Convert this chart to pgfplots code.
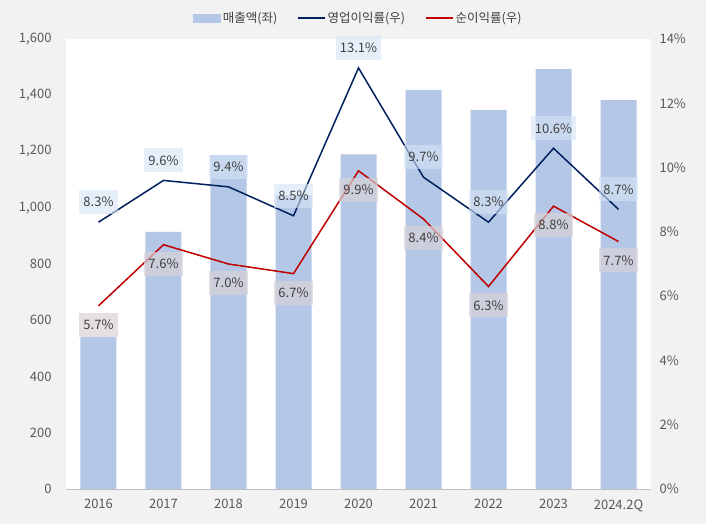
\documentclass[border=0pt]{standalone}
\usepackage{pgfplots}
\pgfplotsset{compat=1.18}
\usepackage{fontspec}
\setmainfont{Noto Sans CJK KR}
\definecolor{barc}{RGB}{180,199,231}
\definecolor{opc}{RGB}{0,32,96}
\definecolor{netc}{RGB}{192,0,0}
\definecolor{bgc}{RGB}{242,242,242}
\definecolor{txt}{RGB}{89,89,89}
\definecolor{lbl}{RGB}{64,64,64}
\definecolor{opbox}{RGB}{214,229,245}
\definecolor{netbox}{RGB}{216,210,214}
\pgfplotsset{/pgf/number format/assume math mode=true}
\begin{document}
\begin{tikzpicture}[x=1pt,y=1pt]
\fill[bgc] (-66,-35) rectangle (640,489);
\begin{axis}[at={(0,0)}, anchor=south west, scale only axis, width=585pt, height=450pt,
  xmin=-0.5, xmax=8.5, ymin=0, ymax=1600, ytick={0,200,...,1600},
  axis background/.style={fill=white},
  axis x line*=bottom, axis y line*=left,
  x axis line style={draw=black!25, line width=0.8pt, -},
  y axis line style={draw=none},
  xtick={0,...,8}, xticklabels={2016,2017,2018,2019,2020,2021,2022,2023,2024.2Q},
  major tick length=0pt,
  tick label style={text=txt, font=\fontsize{13}{15}\selectfont},
  yticklabel style={/pgf/number format/1000 sep={,}},
  xticklabel style={yshift=-7pt},
  yticklabel style={xshift=-11pt},
  ybar, bar width=36pt]
\addplot[fill=barc, draw=none] coordinates {(0,540) (1,914) (2,1187) (3,1045) (4,1190) (5,1419) (6,1348) (7,1493) (8,1383)};
\end{axis}
\begin{axis}[at={(0,0)}, anchor=south west, scale only axis, width=585pt, height=450pt,
  xmin=-0.5, xmax=8.5, ymin=0, ymax=14, ytick={0,2,...,14},
  axis y line*=right, axis x line=none, y axis line style={draw=none},
  major tick length=0pt, clip=false,
  yticklabel={\pgfmathprintnumber{\tick}\%},
  tick label style={text=txt, font=\fontsize{13}{15}\selectfont},
  yticklabel style={xshift=5pt},
  legend style={at={(0.5,1)}, anchor=center, yshift=21pt, legend columns=-1, draw=none, fill=none,
    font=\fontsize{12.5}{14}\selectfont, text=lbl,
    /tikz/every even column/.append style={column sep=18pt}},
  legend cell align=left]
\addlegendimage{legend image code/.code={\fill[barc] (0pt,-4pt) rectangle (27pt,4pt);}}
\addlegendentry{매출액(좌)}
\addplot[opc, line width=1.5pt, mark=none,
  nodes near coords={\pgfmathprintnumber[fixed,fixed zerofill,precision=1]{\pgfplotspointmeta}\%},
  every node near coord/.style={anchor=center, yshift=20pt, fill=opbox, fill opacity=0.6, text opacity=1,
    text=lbl, font=\fontsize{13}{15}\selectfont, inner xsep=4pt, minimum height=24pt},
  legend image code/.code={\draw[opc, line width=1.5pt] (0pt,0pt) -- (27pt,0pt);}]
  coordinates {(0,8.3) (1,9.6) (2,9.4) (3,8.5) (4,13.1) (5,9.7) (6,8.3) (7,10.6) (8,8.7)};
\addlegendentry{영업이익률(우)}
\addplot[netc, line width=1.5pt, mark=none,
  nodes near coords={\pgfmathprintnumber[fixed,fixed zerofill,precision=1]{\pgfplotspointmeta}\%},
  every node near coord/.style={anchor=center, yshift=-19pt, fill=netbox, fill opacity=0.7, text opacity=1,
    text=lbl, font=\fontsize{13}{15}\selectfont, inner xsep=4pt, minimum height=24pt},
  legend image code/.code={\draw[netc, line width=1.5pt] (0pt,0pt) -- (27pt,0pt);}]
  coordinates {(0,5.7) (1,7.6) (2,7.0) (3,6.7) (4,9.9) (5,8.4) (6,6.3) (7,8.8) (8,7.7)};
\addlegendentry{순이익률(우)}
\end{axis}
\end{tikzpicture}
\end{document}
